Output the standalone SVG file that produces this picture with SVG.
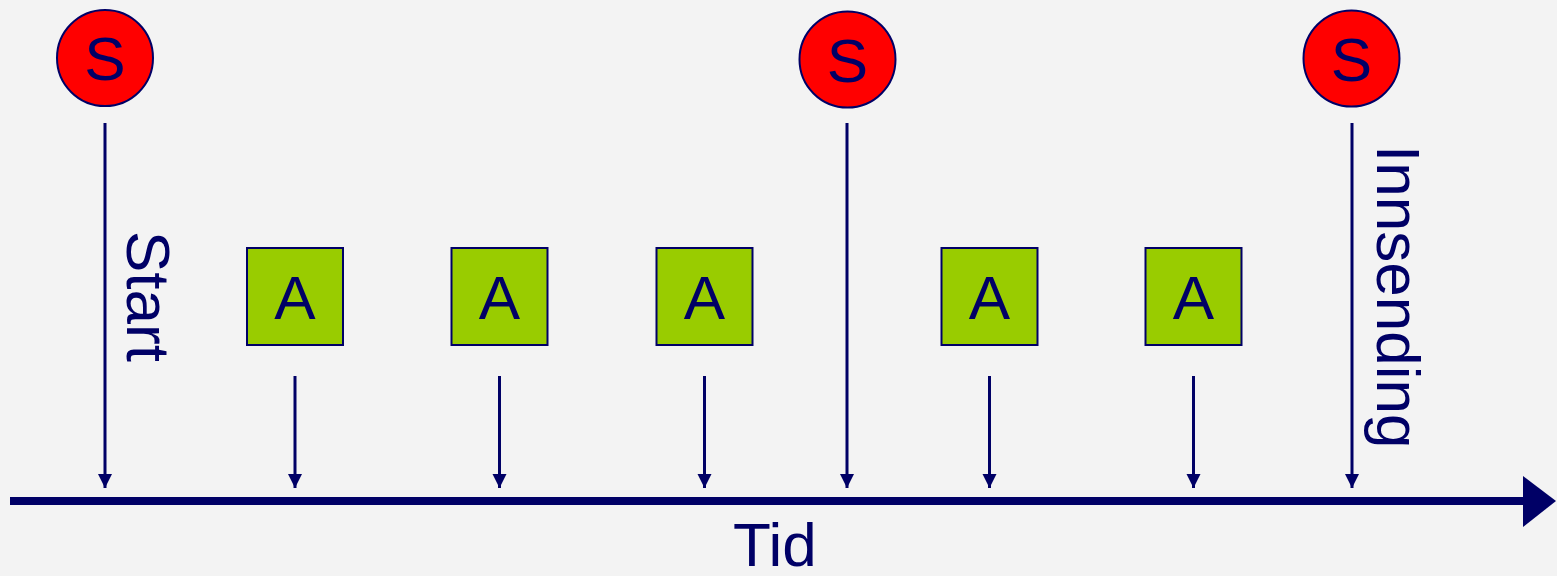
<svg xmlns="http://www.w3.org/2000/svg" width="1557" height="576" viewBox="0 0 1557 576">
<defs>
<marker id="ah" viewBox="0 0 10 10" refX="10" refY="5" markerWidth="4.8" markerHeight="4.8" orient="auto" markerUnits="strokeWidth">
<path d="M0,0 L10,5 L0,10 Z" fill="#000066"/>
</marker>
</defs>
<style>
.lbl{font-family:"Liberation Sans",Arial,sans-serif;font-size:62px;fill:#000066}
.s{fill:#ff0000;stroke:#000066;stroke-width:2}
.a{fill:#99cc00;stroke:#000066;stroke-width:2}
.c{stroke:#000066;stroke-width:3;fill:none;marker-end:url(#ah)}
</style>
<rect width="1557" height="576" fill="#f3f3f3"/>
<g id="connectors">
<line class="c" x1="105" y1="123" x2="105" y2="488"/>
<line class="c" x1="847" y1="123" x2="847" y2="488"/>
<line class="c" x1="1352" y1="123" x2="1352" y2="488"/>
<line class="c" x1="295" y1="376" x2="295" y2="488"/>
<line class="c" x1="499.5" y1="376" x2="499.5" y2="488"/>
<line class="c" x1="704.5" y1="376" x2="704.5" y2="488"/>
<line class="c" x1="989.5" y1="376" x2="989.5" y2="488"/>
<line class="c" x1="1193.5" y1="376" x2="1193.5" y2="488"/>
</g>
<g id="axis">
<line x1="10" y1="501" x2="1526" y2="501" stroke="#000066" stroke-width="8"/>
<polygon points="1523,476 1556,501 1523,527" fill="#000066"/>
<text class="lbl" x="733" y="566">Tid</text>
</g>
<g id="s1"><circle class="s" cx="105" cy="58" r="48"/><text class="lbl" x="105" y="80" text-anchor="middle">S</text></g>
<g id="s2"><circle class="s" cx="847.5" cy="59.5" r="48"/><text class="lbl" x="847.5" y="81.5" text-anchor="middle">S</text></g>
<g id="s3"><circle class="s" cx="1351.5" cy="58.5" r="48"/><text class="lbl" x="1351.5" y="80.5" text-anchor="middle">S</text></g>
<g id="a1"><rect class="a" x="247" y="248" width="96" height="97"/><text class="lbl" x="295" y="318.5" text-anchor="middle">A</text></g>
<g id="a2"><rect class="a" x="451.5" y="248" width="96" height="97"/><text class="lbl" x="499.5" y="318.5" text-anchor="middle">A</text></g>
<g id="a3"><rect class="a" x="656.5" y="248" width="96" height="97"/><text class="lbl" x="704.5" y="318.5" text-anchor="middle">A</text></g>
<g id="a4"><rect class="a" x="941.5" y="248" width="96" height="97"/><text class="lbl" x="989.5" y="318.5" text-anchor="middle">A</text></g>
<g id="a5"><rect class="a" x="1145.5" y="248" width="96" height="97"/><text class="lbl" x="1193.5" y="318.5" text-anchor="middle">A</text></g>
<g id="start-label"><text class="lbl" transform="translate(127,231) rotate(90)">Start</text></g>
<g id="innsending-label"><text class="lbl" transform="translate(1377,145) rotate(90)">Innsending</text></g>
</svg>
